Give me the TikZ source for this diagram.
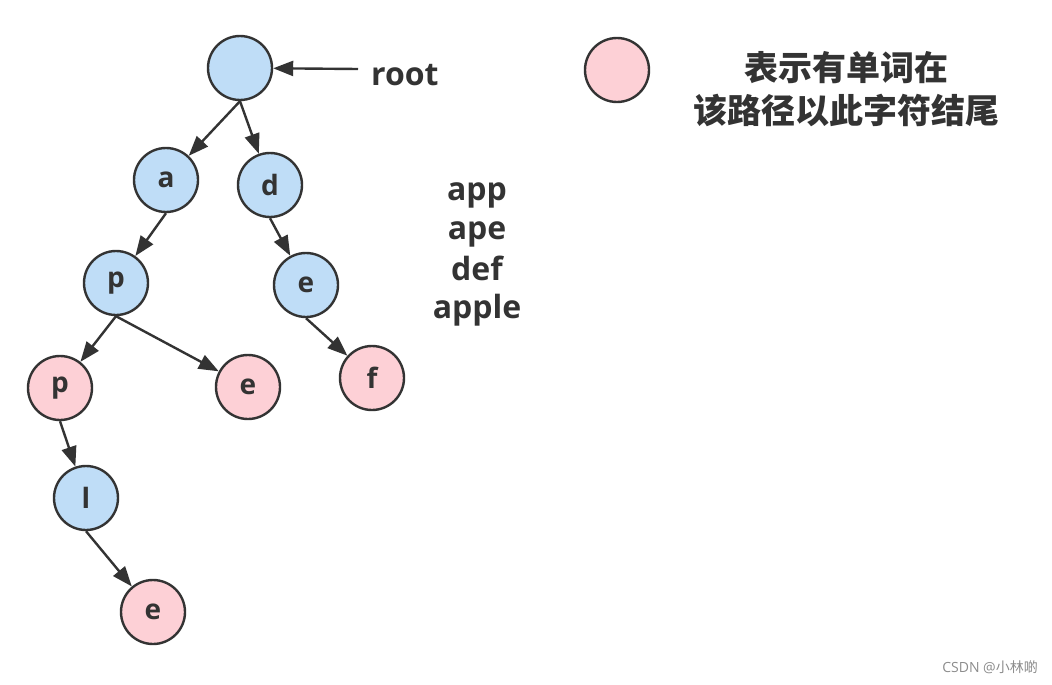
\documentclass[tikz,border=0pt]{standalone}
\usepackage{fontspec}
\setmainfont{Open Sans}
\newfontfamily\cjk{Noto Sans CJK SC}
\usetikzlibrary{arrows.meta}
\definecolor{nodeblue}{HTML}{BFDDF7}
\definecolor{nodepink}{HTML}{FDD0D6}
\definecolor{ink}{HTML}{333333}
\tikzset{
  tnode/.style={circle, draw=ink, line width=2.4pt, minimum size=64pt, inner sep=0pt,
    font=\fontsize{28}{32}\selectfont\bfseries, text=ink},
  bnode/.style={tnode, fill=nodeblue},
  pnode/.style={tnode, fill=nodepink},
  edge/.style={draw=ink, line width=2.4pt, -{Triangle[length=20pt,width=15pt]}},
  lbl/.style={font=\fontsize{32}{36}\selectfont\bfseries, text=ink, inner sep=0pt}
}
\begin{document}
\begin{tikzpicture}[x=1pt,y=-1pt]
\useasboundingbox (0,0) rectangle (1052,685);
\node[bnode] (root) at (240,68) {};
\node[bnode] (a) at (166,180) {a};
\node[bnode] (d) at (270,185) {d};
\node[bnode] (p1) at (116,283) {p};
\node[bnode] (e1) at (306,285) {e};
\node[pnode] (p2) at (60,388) {p};
\node[pnode] (e2) at (248,387) {e};
\node[pnode] (f) at (372,378) {f};
\node[bnode] (l) at (86,498) {l};
\node[pnode] (e3) at (153,612) {e};
\node[pnode] (leg) at (617,70) {};
\node[lbl, anchor=base west] (rootlbl) at (371,85) {root};
\coordinate (rootarr) at (358,69);
\draw[edge] (rootarr) -- (root);
\draw[edge] (root.south) -- (a);
\draw[edge] (root.south) -- (d);
\draw[edge] (a.south) -- (p1);
\draw[edge] (d.south) -- (e1);
\draw[edge] (p1.south) -- (p2);
\draw[edge] (p1.south) -- (e2);
\draw[edge] (e1.south) -- (f);
\draw[edge] (p2.south) -- (l);
\draw[edge] (l.south) -- (e3);
\node[lbl, anchor=base] (w1) at (477,200) {app};
\node[lbl, anchor=base] (w2) at (477,239) {ape};
\node[lbl, anchor=base] (w3) at (477,280) {def};
\node[lbl, anchor=base] (w4) at (477,318) {apple};
\node[font=\cjk\fontsize{34}{40}\selectfont\bfseries, text=ink, inner sep=0pt] (l1) at (846,68) {表示有单词在};
\node[font=\cjk\fontsize{34}{40}\selectfont\bfseries, text=ink, inner sep=0pt] (l2) at (846,110) {该路径以此字符结尾};
\node[font=\fontsize{14}{16}\selectfont, text=black!45, anchor=east, inner sep=0pt] (wm) at (1038,667) {CSDN @{\cjk 小林啲}};
\end{tikzpicture}
\end{document}
